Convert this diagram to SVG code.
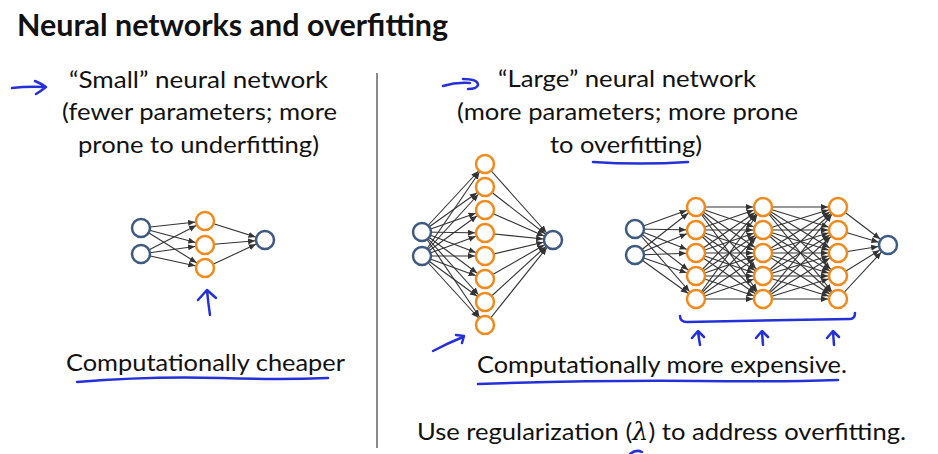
<svg xmlns="http://www.w3.org/2000/svg" width="938" height="454" viewBox="0 0 938 454">
<defs>
<style>
.t{font-family:Lato,"Open Sans","Liberation Sans",sans-serif;font-size:23.5px;fill:#111}
.title{font-family:Lato,"Open Sans","Liberation Sans",sans-serif;font-size:30px;font-weight:bold;fill:#111}
.e line{stroke:#333;stroke-width:1.1;marker-end:url(#ah)}
.io{fill:#fff;stroke:#3d5a80;stroke-width:2.5}
.h{fill:#fff;stroke:#f08a1c;stroke-width:2.5}
.pen{fill:none;stroke:#2430d8;stroke-width:2.5;stroke-linecap:round;stroke-linejoin:round}
</style>
<marker id="ah" markerUnits="userSpaceOnUse" markerWidth="20" markerHeight="8" viewBox="0 0 20 8" refX="17" refY="4" orient="auto">
<path d="M0,1 L7,4 L0,7 z" fill="#333"/>
</marker>
</defs>
<rect width="938" height="454" fill="#fff"/>

<text class="title" x="17" y="36" textLength="431" lengthAdjust="spacingAndGlyphs">Neural networks and overfitting</text>

<g id="left-text">
<text class="t" x="69" y="88" textLength="259" lengthAdjust="spacingAndGlyphs">“Small” neural network</text>
<text class="t" x="62" y="120" textLength="275" lengthAdjust="spacingAndGlyphs">(fewer parameters; more</text>
<text class="t" x="78" y="153" textLength="241" lengthAdjust="spacingAndGlyphs">prone to underfitting)</text>
</g>
<g id="right-text">
<text class="t" x="498" y="87" textLength="258" lengthAdjust="spacingAndGlyphs">“Large” neural network</text>
<text class="t" x="457" y="120" textLength="341" lengthAdjust="spacingAndGlyphs">(more parameters; more prone</text>
<text class="t" x="550" y="153" textLength="152" lengthAdjust="spacingAndGlyphs">to overfitting)</text>
</g>
<g id="bottom-text">
<text class="t" x="66" y="371" textLength="279" lengthAdjust="spacingAndGlyphs">Computationally cheaper</text>
<text class="t" x="477" y="373" textLength="370" lengthAdjust="spacingAndGlyphs">Computationally more expensive.</text>
<text class="t" x="417" y="440" textLength="489" lengthAdjust="spacingAndGlyphs">Use regularization (<tspan font-family="'DejaVu Serif','Liberation Serif',serif" font-style="italic">λ</tspan>) to address overfitting.</text>
</g>

<line id="divider" x1="377" y1="73" x2="377" y2="448" stroke="#8a8a8a" stroke-width="2"/>

<g id="connectors" class="e">
<!-- left network -->
<line x1="141" y1="228" x2="205" y2="221"/><line x1="141" y1="228" x2="205" y2="245"/><line x1="141" y1="228" x2="205" y2="268"/>
<line x1="141" y1="254" x2="205" y2="221"/><line x1="141" y1="254" x2="205" y2="245"/><line x1="141" y1="254" x2="205" y2="268"/>
<line x1="205" y1="221" x2="265" y2="240"/><line x1="205" y1="245" x2="265" y2="240"/><line x1="205" y1="268" x2="265" y2="240"/>
<!-- middle network -->
<line x1="422" y1="232" x2="485" y2="164"/><line x1="422" y1="232" x2="485" y2="187"/><line x1="422" y1="232" x2="485" y2="210"/><line x1="422" y1="232" x2="485" y2="233"/>
<line x1="422" y1="232" x2="485" y2="256"/><line x1="422" y1="232" x2="485" y2="279"/><line x1="422" y1="232" x2="485" y2="302"/><line x1="422" y1="232" x2="485" y2="325"/>
<line x1="422" y1="256" x2="485" y2="164"/><line x1="422" y1="256" x2="485" y2="187"/><line x1="422" y1="256" x2="485" y2="210"/><line x1="422" y1="256" x2="485" y2="233"/>
<line x1="422" y1="256" x2="485" y2="256"/><line x1="422" y1="256" x2="485" y2="279"/><line x1="422" y1="256" x2="485" y2="302"/><line x1="422" y1="256" x2="485" y2="325"/>
<line x1="485" y1="164" x2="553" y2="240"/><line x1="485" y1="187" x2="553" y2="240"/><line x1="485" y1="210" x2="553" y2="240"/><line x1="485" y1="233" x2="553" y2="240"/>
<line x1="485" y1="256" x2="553" y2="240"/><line x1="485" y1="279" x2="553" y2="240"/><line x1="485" y1="302" x2="553" y2="240"/><line x1="485" y1="325" x2="553" y2="240"/>
<!-- right network: input to L1 -->
<line x1="635" y1="229" x2="696" y2="207"/><line x1="635" y1="229" x2="696" y2="230"/><line x1="635" y1="229" x2="696" y2="253"/><line x1="635" y1="229" x2="696" y2="276"/><line x1="635" y1="229" x2="696" y2="299"/>
<line x1="635" y1="255" x2="696" y2="207"/><line x1="635" y1="255" x2="696" y2="230"/><line x1="635" y1="255" x2="696" y2="253"/><line x1="635" y1="255" x2="696" y2="276"/><line x1="635" y1="255" x2="696" y2="299"/>
<!-- L1 to L2 -->
<line x1="696" y1="207" x2="763" y2="207"/><line x1="696" y1="207" x2="763" y2="230"/><line x1="696" y1="207" x2="763" y2="253"/><line x1="696" y1="207" x2="763" y2="276"/><line x1="696" y1="207" x2="763" y2="299"/>
<line x1="696" y1="230" x2="763" y2="207"/><line x1="696" y1="230" x2="763" y2="230"/><line x1="696" y1="230" x2="763" y2="253"/><line x1="696" y1="230" x2="763" y2="276"/><line x1="696" y1="230" x2="763" y2="299"/>
<line x1="696" y1="253" x2="763" y2="207"/><line x1="696" y1="253" x2="763" y2="230"/><line x1="696" y1="253" x2="763" y2="253"/><line x1="696" y1="253" x2="763" y2="276"/><line x1="696" y1="253" x2="763" y2="299"/>
<line x1="696" y1="276" x2="763" y2="207"/><line x1="696" y1="276" x2="763" y2="230"/><line x1="696" y1="276" x2="763" y2="253"/><line x1="696" y1="276" x2="763" y2="276"/><line x1="696" y1="276" x2="763" y2="299"/>
<line x1="696" y1="299" x2="763" y2="207"/><line x1="696" y1="299" x2="763" y2="230"/><line x1="696" y1="299" x2="763" y2="253"/><line x1="696" y1="299" x2="763" y2="276"/><line x1="696" y1="299" x2="763" y2="299"/>
<!-- L2 to L3 -->
<line x1="763" y1="207" x2="838" y2="207"/><line x1="763" y1="207" x2="838" y2="230"/><line x1="763" y1="207" x2="838" y2="253"/><line x1="763" y1="207" x2="838" y2="276"/><line x1="763" y1="207" x2="838" y2="299"/>
<line x1="763" y1="230" x2="838" y2="207"/><line x1="763" y1="230" x2="838" y2="230"/><line x1="763" y1="230" x2="838" y2="253"/><line x1="763" y1="230" x2="838" y2="276"/><line x1="763" y1="230" x2="838" y2="299"/>
<line x1="763" y1="253" x2="838" y2="207"/><line x1="763" y1="253" x2="838" y2="230"/><line x1="763" y1="253" x2="838" y2="253"/><line x1="763" y1="253" x2="838" y2="276"/><line x1="763" y1="253" x2="838" y2="299"/>
<line x1="763" y1="276" x2="838" y2="207"/><line x1="763" y1="276" x2="838" y2="230"/><line x1="763" y1="276" x2="838" y2="253"/><line x1="763" y1="276" x2="838" y2="276"/><line x1="763" y1="276" x2="838" y2="299"/>
<line x1="763" y1="299" x2="838" y2="207"/><line x1="763" y1="299" x2="838" y2="230"/><line x1="763" y1="299" x2="838" y2="253"/><line x1="763" y1="299" x2="838" y2="276"/><line x1="763" y1="299" x2="838" y2="299"/>
<!-- L3 to output -->
<line x1="838" y1="207" x2="888" y2="245"/><line x1="838" y1="230" x2="888" y2="245"/><line x1="838" y1="253" x2="888" y2="245"/><line x1="838" y1="276" x2="888" y2="245"/><line x1="838" y1="299" x2="888" y2="245"/>
</g>

<g id="small-net">
<g id="s-in1"><circle class="io" cx="141" cy="228" r="9"/></g>
<g id="s-in2"><circle class="io" cx="141" cy="254" r="9"/></g>
<g id="s-h1"><circle class="h" cx="205" cy="221" r="9"/></g>
<g id="s-h2"><circle class="h" cx="205" cy="245" r="9"/></g>
<g id="s-h3"><circle class="h" cx="205" cy="268" r="9"/></g>
<g id="s-out"><circle class="io" cx="265" cy="240" r="9"/></g>
</g>

<g id="wide-net">
<g id="w-in1"><circle class="io" cx="422" cy="232" r="9"/></g>
<g id="w-in2"><circle class="io" cx="422" cy="256" r="9"/></g>
<g id="w-h1"><circle class="h" cx="485" cy="164" r="9"/></g>
<g id="w-h2"><circle class="h" cx="485" cy="187" r="9"/></g>
<g id="w-h3"><circle class="h" cx="485" cy="210" r="9"/></g>
<g id="w-h4"><circle class="h" cx="485" cy="233" r="9"/></g>
<g id="w-h5"><circle class="h" cx="485" cy="256" r="9"/></g>
<g id="w-h6"><circle class="h" cx="485" cy="279" r="9"/></g>
<g id="w-h7"><circle class="h" cx="485" cy="302" r="9"/></g>
<g id="w-h8"><circle class="h" cx="485" cy="325" r="9"/></g>
<g id="w-out"><circle class="io" cx="553" cy="240" r="9"/></g>
</g>

<g id="deep-net">
<g id="d-in1"><circle class="io" cx="635" cy="229" r="9"/></g>
<g id="d-in2"><circle class="io" cx="635" cy="255" r="9"/></g>
<g id="d-l1"><circle class="h" cx="696" cy="207" r="9"/><circle class="h" cx="696" cy="230" r="9"/><circle class="h" cx="696" cy="253" r="9"/><circle class="h" cx="696" cy="276" r="9"/><circle class="h" cx="696" cy="299" r="9"/></g>
<g id="d-l2"><circle class="h" cx="763" cy="207" r="9"/><circle class="h" cx="763" cy="230" r="9"/><circle class="h" cx="763" cy="253" r="9"/><circle class="h" cx="763" cy="276" r="9"/><circle class="h" cx="763" cy="299" r="9"/></g>
<g id="d-l3"><circle class="h" cx="838" cy="207" r="9"/><circle class="h" cx="838" cy="230" r="9"/><circle class="h" cx="838" cy="253" r="9"/><circle class="h" cx="838" cy="276" r="9"/><circle class="h" cx="838" cy="299" r="9"/></g>
<g id="d-out"><circle class="io" cx="888" cy="245" r="9"/></g>
</g>

<g id="annotations" class="pen">
<path d="M12,88 Q28,86 45,87 M35,81 Q42,84 46,87 Q41,91 36,94"/>
<path d="M443,86 Q456,82 470,83 M463,79 Q478,79 478,85 Q477,89 468,89"/>
<path d="M593,162 Q640,165 688,162"/>
<path d="M210,315 Q208,302 207,290 M198,300 L207,290 L216,298"/>
<path d="M433,351 Q448,343 463,337 M456,335 L464,336 L462,343"/>
<path d="M680,316 Q680,322 687,322 L790,320 L850,319 Q855,319 855,313"/>
<path d="M700,345 L698,332 M692,338 L698,331 L704,337"/>
<path d="M763,345 L762,332 M756,338 L762,331 L768,337"/>
<path d="M834,345 L833,332 M827,338 L833,331 L839,337"/>
<path d="M77,382 Q150,376 220,378 Q280,380 328,378"/>
<path d="M478,384 Q600,380 700,381 Q780,382 838,380"/>
<path d="M630,454 Q636,449 642,452"/>
</g>
</svg>
